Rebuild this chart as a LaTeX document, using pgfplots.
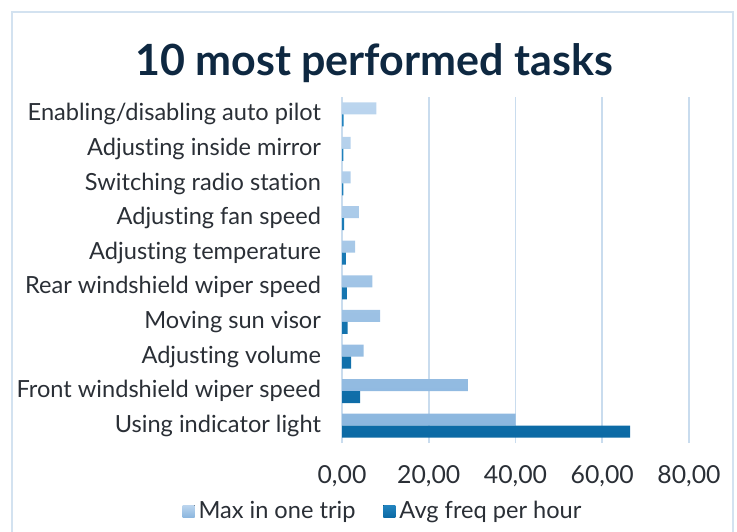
\documentclass[border=0pt]{standalone}
\usepackage{pgfplots}
\pgfplotsset{compat=1.18}
\usepackage{fontspec}
\setmainfont{Lato}[Ligatures={NoCommon,NoRare}]
\definecolor{txt}{HTML}{2A2F36}
\definecolor{titlec}{HTML}{0E2841}
\definecolor{gridc}{HTML}{C9DCEE}
\definecolor{borderc}{HTML}{D3E2F0}
\definecolor{lightA}{HTML}{BBD5EE}
\definecolor{lightB}{HTML}{8CB7DF}
\definecolor{darkA}{HTML}{2284BF}
\definecolor{darkB}{HTML}{0C6AA5}
\begin{document}
\begin{tikzpicture}[x=1pt,y=1pt]
\path[use as bounding box] (0,0) rectangle (368.5,265.5);
\draw[borderc, line width=0.8pt] (6,-2) -- (6,259.5) -- (366.5,259.5) -- (366.5,-2);
\node[font=\fontsize{21.5}{24}\selectfont\bfseries, text=titlec] at (187,233.8) {10 most performed tasks};
\begin{axis}[
  at={(171pt,44pt)}, anchor=south west,
  scale only axis, width=173.5pt, height=173pt,
  xmin=0, xmax=80, ymin=-0.5, ymax=9.5,
  xtick={0,20,40,60,80},
  ytick={0,...,9},
  yticklabels={Using indicator light, Front windshield wiper speed, Adjusting volume, Moving sun visor, Rear windshield wiper speed, Adjusting temperature, Adjusting fan speed, Switching radio station, Adjusting inside mirror, Enabling/disabling auto pilot},
  xmajorgrids, major grid style={gridc, line width=0.8pt},
  axis line style={draw=none},
  major tick length=0pt,
  tick label style={font=\fontsize{11.8}{14}\selectfont, text=txt},
  xticklabel style={yshift=-7.5pt, font=\fontsize{12.4}{14}\selectfont},
  yticklabel style={xshift=-7pt},
  /pgf/number format/.cd, fixed, fixed zerofill, precision=2, use comma, assume math mode=true,
  /pgfplots/.cd,
  xbar, bar width=6pt,
  legend style={at={(0.121,-0.197)}, anchor=center, draw=none, legend columns=2,
    font=\fontsize{11.8}{14}\selectfont, text=txt,
    /tikz/every even column/.append style={column sep=12pt}},
]
\addplot[draw=none, top color=lightA, bottom color=lightB, bar shift=3pt,
  legend image code/.code={\fill[top color=lightA, bottom color=lightB] (0pt,-3pt) rectangle (6pt,3pt);}]
  coordinates {(40,0) (29,1) (5,2) (8.8,3) (7,4) (3,5) (3.9,6) (2,7) (2,8) (7.9,9)};
\addlegendentry{Max in one trip}
\addplot[draw=none, top color=darkA, bottom color=darkB, bar shift=-3pt,
  legend image code/.code={\fill[top color=darkA, bottom color=darkB] (0pt,-3pt) rectangle (6pt,3pt);}]
  coordinates {(66.4,0) (4.2,1) (2.1,2) (1.3,3) (1.1,4) (0.9,5) (0.5,6) (0.3,7) (0.3,8) (0.4,9)};
\addlegendentry{Avg freq per hour}
\end{axis}
\end{tikzpicture}
\end{document}
